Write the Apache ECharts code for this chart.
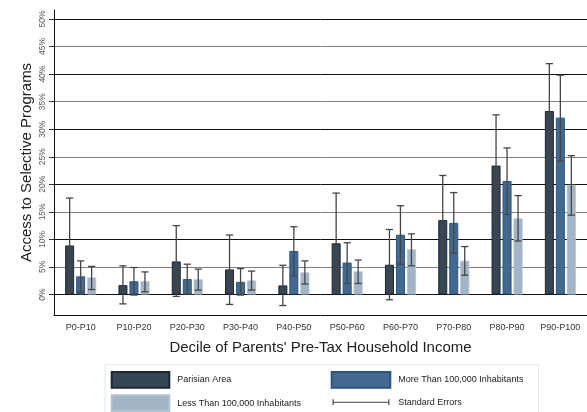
<!DOCTYPE html>
<html>
<head>
<meta charset="utf-8">
<script src="https://cdn.jsdelivr.net/npm/echarts@6/dist/echarts.min.js"></script>
<style>
  html, body { margin: 0; padding: 0; background: #fff; }
  #chart { width: 587px; height: 412px; }
</style>
</head>
<body>
<div id="chart"></div>
<script>
// Access to selective programs by decile of parents' pre-tax income (%)
const categories = ['P0-P10', 'P10-P20', 'P20-P30', 'P30-P40', 'P40-P50',
                    'P50-P60', 'P60-P70', 'P70-P80', 'P80-P90', 'P90-P100'];

const parisian   = [8.9, 1.7, 6.0, 4.55, 1.65, 9.3, 5.4, 13.5, 23.4, 33.3];
const parisianLo = [0.3, -1.7, -0.35, -1.8, -2.0, 0.2, -0.95, 5.2, 14.1, 24.7];
const parisianHi = [17.5, 5.2, 12.5, 10.8, 5.3, 18.4, 11.8, 21.6, 32.6, 41.9];

const bigCities   = [3.3, 2.4, 2.8, 2.3, 7.9, 5.8, 10.85, 13.0, 20.6, 32.1];
const bigCitiesLo = [0.4, -0.1, 0.1, -0.1, 3.4, 2.0, 5.5, 7.5, 14.5, 24.2];
const bigCitiesHi = [6.1, 4.9, 5.5, 4.7, 12.3, 9.4, 16.1, 18.5, 26.6, 39.8];

const smallTowns   = [3.1, 2.4, 2.75, 2.55, 4.0, 4.2, 8.2, 6.1, 13.8, 19.9];
const smallTownsLo = [0.9, 0.5, 0.8, 0.8, 1.9, 2.0, 5.2, 3.5, 9.7, 14.4];
const smallTownsHi = [5.1, 4.1, 4.6, 4.25, 6.1, 6.25, 11.0, 8.7, 17.95, 25.2];

const yTicks = { min: 0, max: 50, step: 5 };

const seriesNames = ['Parisian Area', 'More Than 100,000 Inhabitants', 'Less Than 100,000 Inhabitants'];
const errName = 'Standard Errors';

// error-bar rows: [category index, series slot, low, high]
const errRows = [];
[[parisianLo, parisianHi], [bigCitiesLo, bigCitiesHi], [smallTownsLo, smallTownsHi]]
  .forEach(([lo, hi], k) => {
    categories.forEach((c, i) => errRows.push([i, k, lo[i], hi[i]]));
  });

const BAR_W = 9;
const BAR_GAP = 2;
const FONT = '"Liberation Sans", Arial, Helvetica, sans-serif';

const chart = echarts.init(document.getElementById('chart'), null, { renderer: 'canvas' });

const GRID_LEFT = 54, GRID_W = 535;

const legendText = { fontSize: 9, color: '#222', padding: [0, 0, 0, 3], fontFamily: FONT };

chart.setOption({
  backgroundColor: '#ffffff',
  animation: false,
  textStyle: { fontFamily: FONT },
  grid: [
    // plotting area (0% .. 50%)
    { left: GRID_LEFT, width: GRID_W, top: 19, bottom: 117.5 },
    // outer frame with axes lines
    { left: GRID_LEFT, width: GRID_W, top: 10, bottom: 97 }
  ],
  xAxis: [
    { gridIndex: 0, type: 'category', data: categories, show: false },
    {
      gridIndex: 1, type: 'category', data: categories,
      axisLine: { lineStyle: { color: '#111', width: 1 } },
      axisTick: { alignWithLabel: true, length: 5, lineStyle: { color: '#111' } },
      axisLabel: { fontSize: 9, color: '#333', margin: 8, fontFamily: FONT }
    }
  ],
  yAxis: [
    {
      gridIndex: 0, type: 'value',
      min: yTicks.min, max: yTicks.max, interval: yTicks.step,
      axisLine: { show: false },
      axisTick: { show: true, length: 5, lineStyle: { color: '#333' } },
      axisLabel: {
        rotate: 90, fontSize: 8.5, color: '#5a5a5a', margin: 7,
        formatter: '{value}%', fontFamily: FONT
      },
      splitLine: { show: true, lineStyle: { color: ['#111111', '#808080'], width: 1 } }
    },
    {
      gridIndex: 1, type: 'value', min: 0, max: 1,
      axisLine: { show: true, lineStyle: { color: '#111', width: 1 } },
      axisTick: { show: false },
      axisLabel: { show: false },
      splitLine: { show: false },
      name: 'Access to Selective Programs',
      nameLocation: 'middle',
      nameGap: 20,
      nameTextStyle: { fontSize: 15, color: '#222', fontFamily: FONT }
    }
  ],
  legend: [
    {
      orient: 'vertical', left: 110.7, top: 371, padding: 0, height: 60,
      itemWidth: 57.6, itemHeight: 15.7, itemGap: 5.6,
      textStyle: legendText,
      data: [
        { name: seriesNames[0], icon: 'rect' },
        { name: seriesNames[2], icon: 'rect' }
      ]
    },
    {
      orient: 'vertical', left: 330.7, top: 371, padding: 0, height: 60,
      itemWidth: 58.6, itemHeight: 15.7, itemGap: 5.6,
      textStyle: legendText,
      data: [
        { name: seriesNames[1], icon: 'rect' },
        { name: errName, icon: 'path://M0,0M0,5H1.2V7.5H56.8V5H58V11H56.8V8.5H1.2V11H0ZM58,16' }
      ]
    }
  ],
  graphic: [
    {
      type: 'rect', silent: true, z: -1,
      shape: { x: 105, y: 364.5, width: 433.5, height: 70 },
      style: { fill: 'none', stroke: '#e3e9ec', lineWidth: 1 }
    },
    {
      type: 'text', silent: true,
      x: GRID_LEFT + GRID_W / 2 - 1, y: 348,
      style: {
        text: "Decile of Parents' Pre-Tax Household Income",
        fontSize: 15, fill: '#222', fontFamily: FONT,
        align: 'center', verticalAlign: 'middle'
      }
    }
  ],
  series: [
    {
      name: seriesNames[0], type: 'bar', xAxisIndex: 0, yAxisIndex: 0,
      data: parisian, barWidth: BAR_W, barGap: (BAR_GAP / BAR_W * 100) + '%',
      itemStyle: { color: '#374654', borderColor: '#1d2833', borderWidth: 1 }
    },
    {
      name: seriesNames[1], type: 'bar', xAxisIndex: 0, yAxisIndex: 0,
      data: bigCities, barWidth: BAR_W,
      itemStyle: { color: '#43698f', borderColor: '#2b5580', borderWidth: 1 }
    },
    {
      name: seriesNames[2], type: 'bar', xAxisIndex: 0, yAxisIndex: 0,
      data: smallTowns, barWidth: BAR_W,
      itemStyle: { color: '#a3b4c6', borderColor: '#b3c2d1', borderWidth: 0.6 }
    },
    {
      name: errName, type: 'custom', xAxisIndex: 0, yAxisIndex: 0,
      data: errRows, z: 5,
      encode: { x: 0, y: [2, 3] },
      itemStyle: { color: '#444' },
      renderItem: function (params, api) {
        const cat = api.value(0);
        const slot = api.value(1);
        const hi = api.coord([cat, api.value(3)]);
        const lo = api.coord([cat, api.value(2)]);
        const x = hi[0] + (slot - 1) * (BAR_W + BAR_GAP);
        const cap = 3.6;
        const style = { stroke: '#454545', lineWidth: 1.3 };
        return {
          type: 'group',
          children: [
            { type: 'line', shape: { x1: x, y1: hi[1], x2: x, y2: lo[1] }, style: style },
            { type: 'line', shape: { x1: x - cap, y1: hi[1], x2: x + cap, y2: hi[1] }, style: style },
            { type: 'line', shape: { x1: x - cap, y1: lo[1], x2: x + cap, y2: lo[1] }, style: style }
          ]
        };
      }
    }
  ]
});
</script>
</body>
</html>
